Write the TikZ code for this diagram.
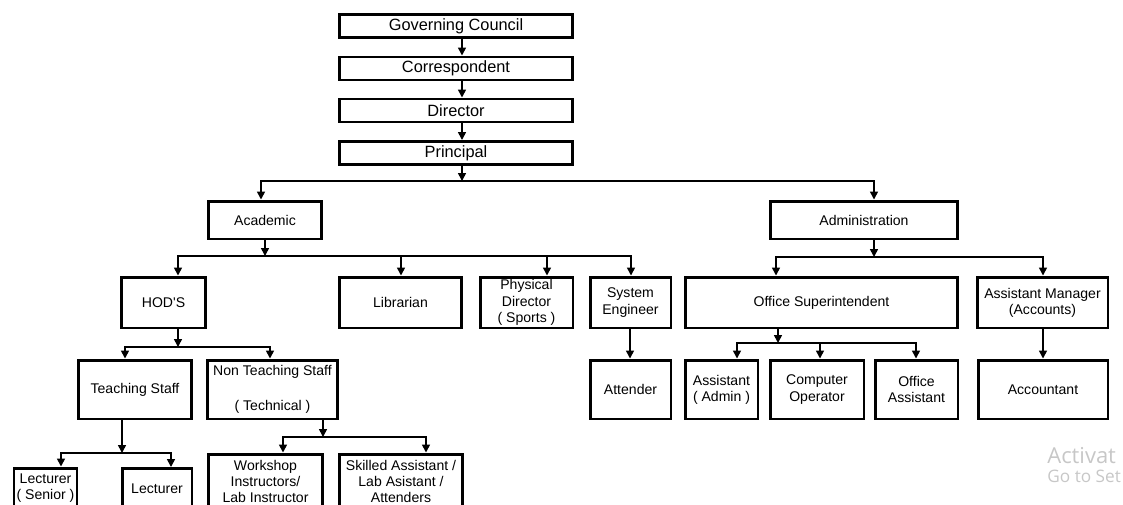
\documentclass[tikz,border=0pt]{standalone}
\usepackage{fontspec}
\setmainfont{Liberation Sans}
\newfontfamily\markfont{Open Sans}
\usetikzlibrary{arrows.meta}

\tikzset{
  box/.style={draw, line width=1.7pt, fill=white, align=center, inner sep=1pt,
    font=\fontsize{8}{9.2}\selectfont},
  topbox/.style={box, minimum width=4.66cm, minimum height=0.46cm,
    font=\fontsize{9.3}{11}\selectfont},
  arr/.style={line width=0.9pt, -{Triangle[length=4.5pt,width=4.5pt]}},
  bus/.style={line width=0.9pt, line cap=rect},
  wmark/.style={anchor=west, inner sep=0pt, text=black!22},
}

\begin{document}
\begin{tikzpicture}[x=0.02cm, y=-0.02cm]

    % Page size, counted in pixels of the chart (y runs downwards)
    \useasboundingbox (0,0) rectangle (1123,504);
    \clip (0,0) rectangle (1123,504);

    % Top chain of command
    \node[topbox] (gc)   at (456,26)    {Governing Council};
    \node[topbox] (corr) at (456,68.5)  {Correspondent};
    \node[topbox] (dir)  at (456,110.5) {Director};
    \node[topbox] (prin) at (456,153)   {Principal};

    % The two wings
    \node[box, minimum width=2.28cm, minimum height=0.76cm] (acad)  at (265,220) {Academic};
    \node[box, minimum width=3.76cm, minimum height=0.76cm] (admin) at (864,220) {Administration};

    % Academic wing
    \node[box, minimum width=1.70cm, minimum height=1.02cm] (hod)  at (163.5,302.5) {HOD\textquotesingle S};
    \node[box, minimum width=2.46cm, minimum height=1.02cm] (lib)  at (400.5,302.5) {Librarian};
    \node[box, minimum width=1.86cm, minimum height=1.02cm] (phys) at (526.5,302.5) {Physical\\Director\\( Sports )};
    \node[box, minimum width=1.62cm, minimum height=1.02cm] (sys)  at (630.5,302.5) {System\\Engineer};

    % Administration wing
    \node[box, minimum width=5.46cm, minimum height=1.02cm] (osup)  at (821.5,302.5) {Office Superintendent};
    \node[box, minimum width=2.62cm, minimum height=1.02cm] (amgr)  at (1042.5,302.5) {Assistant Manager\\(Accounts)};

    % Fourth row
    \node[box, minimum width=2.28cm, minimum height=1.18cm] (teach) at (135,389.5)   {Teaching Staff};
    \node[box, minimum width=2.62cm, minimum height=1.18cm] (nont)  at (272.5,389.5) {Non Teaching Staff\\[10.5pt]( Technical )};
    \node[box, minimum width=1.62cm, minimum height=1.18cm] (att)   at (630.5,389.5) {Attender};
    \node[box, minimum width=1.46cm, minimum height=1.18cm] (asad)  at (721.5,389.5) {Assistant\\( Admin )};
    \node[box, minimum width=1.88cm, minimum height=1.18cm] (cop)   at (817,389.5)   {Computer\\Operator};
    \node[box, minimum width=1.66cm, minimum height=1.18cm] (oass)  at (916.5,389.5) {Office\\Assistant};
    \node[box, minimum width=2.60cm, minimum height=1.18cm] (acct)  at (1043,389.5)  {Accountant};

    % Bottom row (cut off by the page edge)
    \node[box, minimum width=1.26cm, minimum height=0.80cm] (lecs)  at (45.5,488)  {Lecturer\\( Senior )};
    \node[box, minimum width=1.40cm, minimum height=0.80cm] (lec)   at (157,488.5) {Lecturer};
    \node[box, minimum width=2.30cm, minimum height=1.10cm] (work)  at (265.5,481.5) {Workshop\\Instructors/\\Lab Instructor};
    \node[box, minimum width=2.48cm, minimum height=1.10cm] (skil)  at (401,481.5)  {Skilled Assistant /\\Lab Asistant /\\Attenders};

    % Watermark left on the screenshot
    \node[wmark, font=\markfont\fontsize{12.5}{14}\selectfont] (wma) at (1047,456) {Activat};
    \node[wmark, font=\markfont\fontsize{9.8}{11}\selectfont] (wmb) at (1047,476) {Go to Set};

    % Spine through the top boxes
    \coordinate (spine) at (462,0);
    \draw[arr] (gc.south -| spine)   -- (corr.north -| spine);
    \draw[arr] (corr.south -| spine) -- (dir.north -| spine);
    \draw[arr] (dir.south -| spine)  -- (prin.north -| spine);

    % Principal to the wings
    \coordinate (pb) at (462,181);
    \coordinate (pbl) at (261,181);
    \coordinate (pbr) at (874,181);
    \draw[arr] (prin.south -| pb) -- (pb);
    \draw[bus] (pbl) -- (pbr);
    \draw[arr] (pbl) -- (pbl |- acad.north);
    \draw[arr] (pbr) -- (pbr |- admin.north);

    % Academic to its sections
    \coordinate (ab) at (265,256);
    \draw[arr] (acad.south -| ab) -- (ab);
    \draw[bus] (178,256) -- (631,256);
    \foreach \n/\x in {hod/178, lib/401, phys/547, sys/631} {
        \coordinate (t) at (\x,256);
        \draw[arr] (t) -- (t |- \n.north);
    }

    % Administration to its sections
    \coordinate (db) at (874,257);
    \coordinate (dbl) at (776,257);
    \coordinate (dbr) at (1043,257);
    \draw[arr] (admin.south -| db) -- (db);
    \draw[bus] (dbl) -- (dbr);
    \draw[arr] (dbl) -- (dbl |- osup.north);
    \draw[arr] (dbr) -- (dbr |- amgr.north);

    % HOD'S to staff
    \coordinate (hb) at (178,347);
    \coordinate (hbl) at (125,347);
    \coordinate (hbr) at (270,347);
    \draw[arr] (hod.south -| hb) -- (hb);
    \draw[bus] (hbl) -- (hbr);
    \draw[arr] (hbl) -- (hbl |- teach.north);
    \draw[arr] (hbr) -- (hbr |- nont.north);

    % Single drops
    \coordinate (sc) at (630,0);
    \draw[arr] (sys.south -| sc) -- (att.north -| sc);
    \coordinate (mc) at (1043,0);
    \draw[arr] (amgr.south -| mc) -- (acct.north -| mc);

    % Office Superintendent to its staff
    \coordinate (ob) at (778,343);
    \draw[arr] (osup.south -| ob) -- (ob);
    \draw[bus] (737,343) -- (916,343);
    \foreach \n/\x in {asad/737, cop/820, oass/916} {
        \coordinate (t) at (\x,343);
        \draw[arr] (t) -- (t |- \n.north);
    }

    % Teaching staff to lecturers
    \coordinate (tb) at (122,453);
    \coordinate (tbl) at (61,453);
    \coordinate (tbr) at (171,453);
    \draw[arr] (teach.south -| tb) -- (tb);
    \draw[bus] (tbl) -- (tbr);
    \draw[arr] (tbl) -- (tbl |- lecs.north);
    \draw[arr] (tbr) -- (tbr |- lec.north);

    % Non teaching staff to technical posts
    \coordinate (nb) at (323,437);
    \coordinate (nbl) at (283,437);
    \coordinate (nbr) at (426,437);
    \draw[arr] (nont.south -| nb) -- (nb);
    \draw[bus] (nbl) -- (nbr);
    \draw[arr] (nbl) -- (nbl |- work.north);
    \draw[arr] (nbr) -- (nbr |- skil.north);

\end{tikzpicture}
\end{document}
